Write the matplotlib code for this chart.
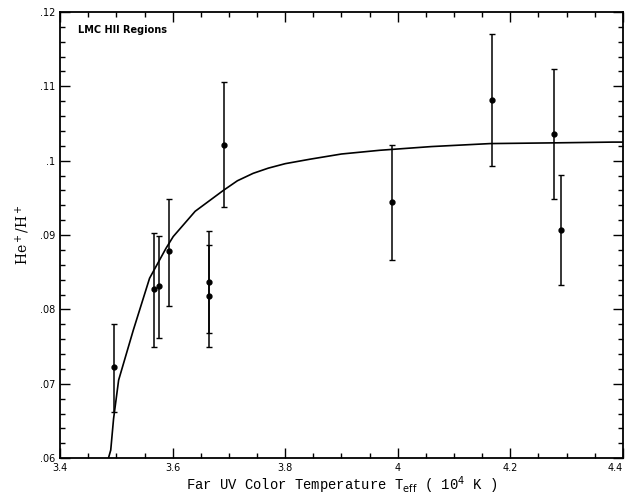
import matplotlib.pyplot as plt
from matplotlib.ticker import MultipleLocator, FixedLocator

# datos
temp = [3.496, 3.566, 3.575, 3.594, 3.665, 3.665, 3.691, 3.990, 4.167, 4.277, 4.290]
he_h = [0.0722, 0.0827, 0.0831, 0.0878, 0.0837, 0.0818, 0.1021, 0.0945, 0.1082, 0.1036, 0.0907]
err_hi = [0.0781, 0.0903, 0.0899, 0.0949, 0.0906, 0.0887, 0.1106, 0.1021, 0.1170, 0.1123, 0.0981]
err_lo = [0.0662, 0.0749, 0.0761, 0.0804, 0.0768, 0.0749, 0.0938, 0.0866, 0.0993, 0.0949, 0.0833]

# curva del modelo
model_t = [3.484, 3.490, 3.495, 3.504, 3.530, 3.559, 3.588, 3.601, 3.640, 3.690, 3.715,
           3.743, 3.770, 3.800, 3.844, 3.900, 3.968, 4.060, 4.164, 4.280, 4.382, 4.40]
model_y = [0.0595, 0.0611, 0.0653, 0.0705, 0.0772, 0.0842, 0.0882, 0.0898, 0.0932, 0.0960, 0.0973,
           0.0983, 0.0990, 0.0996, 0.1002, 0.1009, 0.1014, 0.1019, 0.1023, 0.1024, 0.1025, 0.1025]

fig = plt.figure(figsize=(6.26, 4.97), dpi=100)
ax = fig.add_axes([0.096, 0.078, 0.899, 0.898])

ax.plot(model_t, model_y, color='black', lw=1.2)

yerr = [[y - lo for y, lo in zip(he_h, err_lo)], [hi - y for y, hi in zip(he_h, err_hi)]]
ax.errorbar(temp, he_h, yerr=yerr, fmt='o', color='black', ms=3.5, elinewidth=1.1,
            capsize=2, capthick=1)

ax.set_xlim(3.4, 4.4)
ax.set_ylim(0.06, 0.12)

ax.xaxis.set_major_locator(FixedLocator([3.4, 3.6, 3.8, 4.0, 4.2, 4.4]))
ax.set_xticklabels(['3.4', '3.6', '3.8', '4', '4.2', '4.4'])
ax.get_xticklabels()[-1].set_ha('right')
ax.xaxis.set_minor_locator(MultipleLocator(0.05))
ax.yaxis.set_major_locator(FixedLocator([0.06, 0.07, 0.08, 0.09, 0.10, 0.11, 0.12]))
ax.set_yticklabels(['.06', '.07', '.08', '.09', '.1', '.11', '.12'])
ax.yaxis.set_minor_locator(MultipleLocator(0.002))

ax.tick_params(which='both', direction='in', top=True, right=True, labelsize=7)
ax.tick_params(which='major', length=7, width=1)
ax.tick_params(which='minor', length=3.5, width=1)
for s in ax.spines.values():
    s.set_linewidth(1.3)

ax.text(0.032, 0.96, 'LMC HII Regions', transform=ax.transAxes, fontsize=7,
        fontweight='bold', va='center', ha='left')

ax.set_xlabel('Far UV Color Temperature T$_{\\rm eff}$ ( 10$^4$ K )',
              family='Liberation Mono', fontsize=10, labelpad=1)
ax.set_ylabel('He$^+$/H$^+$', family='DejaVu Serif', fontsize=10, labelpad=6)

fig.savefig('out.png', dpi=100)
